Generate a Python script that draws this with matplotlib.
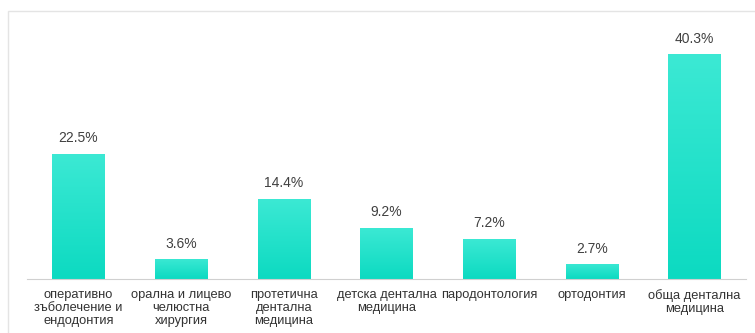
import numpy as np
import matplotlib
matplotlib.use("Agg")
import matplotlib.pyplot as plt
from matplotlib.patches import Rectangle
from matplotlib.colors import LinearSegmentedColormap

categories = [
    "оперативно\nзъболечение и\nендодонтия",
    "орална и лицево\nчелюстна\nхирургия",
    "протетична\nдентална\nмедицина",
    "детска дентална\nмедицина",
    "пародонтология",
    "ортодонтия",
    "обща дентална\nмедицина",
]
values = [22.5, 3.6, 14.4, 9.2, 7.2, 2.7, 40.3]

plt.rcParams["font.family"] = ["Liberation Sans", "DejaVu Sans"]

fig = plt.figure(figsize=(7.55, 3.33), dpi=100)
# light frame around the chart area
fig.patches.append(Rectangle((8 / 755, -0.1), 1.0, 1 - 11 / 333 + 0.1,
                             transform=fig.transFigure, fill=False,
                             edgecolor="#e4e4e4", linewidth=1.0))

ax = fig.add_axes([27 / 755, 54 / 333, 719 / 755, 251 / 333])
x = np.arange(len(values))
bars = ax.bar(x, values, width=0.51, color="none", edgecolor="none")

cmap = LinearSegmentedColormap.from_list("teal", ["#0cdac1", "#3ce9d4"])
grad = np.linspace(0, 1, 256).reshape(-1, 1)
for b in bars:
    x0, w, h = b.get_x(), b.get_width(), b.get_height()
    im = ax.imshow(grad, extent=(x0, x0 + w, 0, h), origin="lower",
                   cmap=cmap, aspect="auto", zorder=2)
    im.set_clip_path(b)
    ax.text(x0 + w / 2, h + 1.5, f"{h:.1f}%", ha="center", va="bottom",
            fontsize=10, color="#404040")

ax.set_xlim(-0.5, len(values) - 0.5)
ax.set_ylim(0, 45)
ax.set_xticks(x)
ax.set_xticklabels(categories, fontsize=9.3, color="#333333", linespacing=1.15)
ax.tick_params(axis="x", length=0, pad=7)
ax.set_yticks([])
for s in ["top", "right", "left"]:
    ax.spines[s].set_visible(False)
ax.spines["bottom"].set_color("#d0d0d0")

fig.savefig("out.png", dpi=100)
